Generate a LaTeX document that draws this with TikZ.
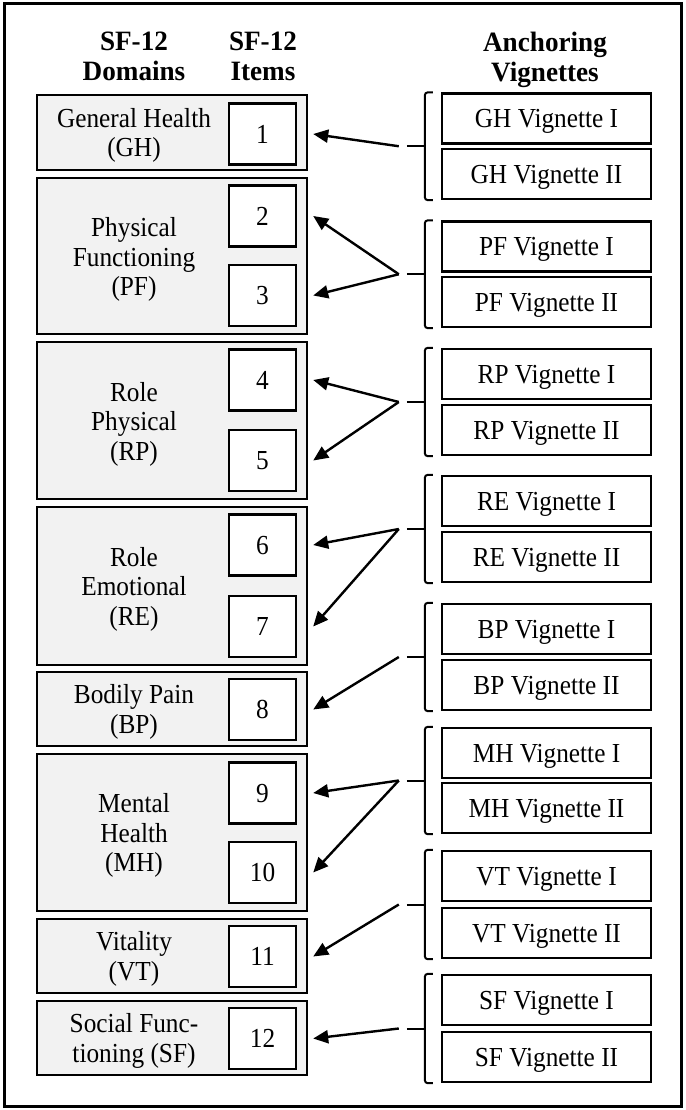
\documentclass[tikz,border=0pt]{standalone}
\usepackage{fontspec}
\setmainfont{Liberation Serif}[FakeStretch=0.92]
\newfontfamily\hdrfont{Liberation Serif}[FakeStretch=0.97]
\usetikzlibrary{arrows.meta,calc}
\tikzset{
  dom/.style={draw, line width=2.6pt, fill=gray!10, minimum width=270pt, inner sep=0pt},
  dtext/.style={align=center, inner sep=0pt, text depth=0pt, font=\fontsize{27.5}{29.5}\selectfont},
  item/.style={draw, line width=2.4pt, fill=white, minimum width=67pt, minimum height=61pt, inner sep=0pt, text depth=0pt, font=\fontsize{27.5}{29.5}\selectfont},
  vig/.style={draw, line width=2.4pt, fill=white, minimum width=209pt, minimum height=50pt, inner sep=0pt, text depth=0pt, font=\fontsize{27.5}{29.5}\selectfont},
  hdr/.style={align=center, inner sep=0pt, text depth=0pt, font=\hdrfont\fontsize{28}{29.6}\selectfont\bfseries},
  brk/.style={line width=2pt, rounded corners=3pt},
  arr/.style={line width=2.4pt, -{Triangle[length=15pt,width=13pt]}}
}
\newcommand\vbr[1]{%
  \coordinate (m#1) at ($(v#11.north west)!0.5!(v#12.south west)$);
  \draw[brk] ([xshift=-8pt]v#11.north west) -- ([xshift=-16pt]v#11.north west) -- ([xshift=-16pt]v#12.south west) -- ([xshift=-8pt]v#12.south west);
  \draw[line width=2pt] ([xshift=-34pt]m#1) -- ([xshift=-16pt]m#1);
  \coordinate (s#1) at ([xshift=-42pt]m#1);
}
\begin{document}
\begin{tikzpicture}[x=1pt,y=-1pt]
\useasboundingbox (0,0) rectangle (685,1110);
\draw[line width=3pt] (4,4) rectangle (681,1106);

% headers
\node[hdr] (h1) at (134,56.5) {SF-12\\Domains};
\node[hdr] (h2) at (263,56.5) {SF-12\\Items};
\node[hdr] (h3) at (545,56.5) {Anchoring\\Vignettes};

% domain boxes
\node[dom, minimum height=75pt]  (dGH) at (172,132.5) {};
\node[dom, minimum height=156pt] (dPF) at (172,256) {};
\node[dom, minimum height=157pt] (dRP) at (172,420.5) {};
\node[dom, minimum height=158pt] (dRE) at (172,586) {};
\node[dom, minimum height=74pt]  (dBP) at (172,709) {};
\node[dom, minimum height=157pt] (dMH) at (172,832.5) {};
\node[dom, minimum height=74pt]  (dVT) at (172,956) {};
\node[dom, minimum height=74pt]  (dSF) at (172,1038) {};

\node[dtext] (tGH) at (134,132.5) {General Health\\(GH)};
\node[dtext] (tPF) at (134,256.5) {Physical\\Functioning\\(PF)};
\node[dtext] (tRP) at (134,421) {Role\\Physical\\(RP)};
\node[dtext] (tRE) at (134,586) {Role\\Emotional\\(RE)};
\node[dtext] (tBP) at (134,709) {Bodily Pain\\(BP)};
\node[dtext] (tMH) at (134,832.5) {Mental\\Health\\(MH)};
\node[dtext] (tVT) at (134,956) {Vitality\\(VT)};
\node[dtext] (tSF) at (134,1038) {Social Func-\\tioning (SF)};

% items
\node[item] (i1)  at (262.5,134)    {1};
\node[item] (i2)  at (262.5,216)    {2};
\node[item] (i3)  at (262.5,295.5)  {3};
\node[item] (i4)  at (262.5,380)    {4};
\node[item] (i5)  at (262.5,460.5)  {5};
\node[item] (i6)  at (262.5,545)    {6};
\node[item] (i7)  at (262.5,626.5)  {7};
\node[item] (i8)  at (262.5,709.5)  {8};
\node[item] (i9)  at (262.5,793)    {9};
\node[item] (i10) at (262.5,872.5)  {10};
\node[item] (i11) at (262.5,956.5)  {11};
\node[item] (i12) at (262.5,1038.5) {12};

% vignettes
\node[vig] (vGH1) at (546.5,118.5) {GH Vignette I};
\node[vig] (vGH2) at (546.5,174)   {GH Vignette II};
\node[vig] (vPF1) at (546.5,246.5) {PF Vignette I};
\node[vig] (vPF2) at (546.5,302)   {PF Vignette II};
\node[vig] (vRP1) at (546.5,374)   {RP Vignette I};
\node[vig] (vRP2) at (546.5,430)   {RP Vignette II};
\node[vig] (vRE1) at (546.5,501)   {RE Vignette I};
\node[vig] (vRE2) at (546.5,557)   {RE Vignette II};
\node[vig] (vBP1) at (546.5,629)   {BP Vignette I};
\node[vig] (vBP2) at (546.5,685)   {BP Vignette II};
\node[vig] (vMH1) at (546.5,753)   {MH Vignette I};
\node[vig] (vMH2) at (546.5,808)   {MH Vignette II};
\node[vig] (vVT1) at (546.5,876)   {VT Vignette I};
\node[vig] (vVT2) at (546.5,933)   {VT Vignette II};
\node[vig] (vSF1) at (546.5,1000)  {SF Vignette I};
\node[vig] (vSF2) at (546.5,1057)  {SF Vignette II};

% brackets
\vbr{GH}\vbr{PF}\vbr{RP}\vbr{RE}\vbr{BP}\vbr{MH}\vbr{VT}\vbr{SF}

% arrows
\draw[arr] (sGH) -- ([xshift=16pt]i1.east);
\draw[arr] (sPF) -- ([xshift=16pt]i2.east);
\draw[arr] (sPF) -- ([xshift=16pt]i3.east);
\draw[arr] (sRP) -- ([xshift=16pt]i4.east);
\draw[arr] (sRP) -- ([xshift=16pt]i5.east);
\draw[arr] (sRE) -- ([xshift=16pt]i6.east);
\draw[arr] (sRE) -- ([xshift=16pt]i7.east);
\draw[arr] (sBP) -- ([xshift=16pt]i8.east);
\draw[arr] (sMH) -- ([xshift=16pt]i9.east);
\draw[arr] (sMH) -- ([xshift=16pt]i10.east);
\draw[arr] (sVT) -- ([xshift=16pt]i11.east);
\draw[arr] (sSF) -- ([xshift=16pt]i12.east);
\end{tikzpicture}
\end{document}
